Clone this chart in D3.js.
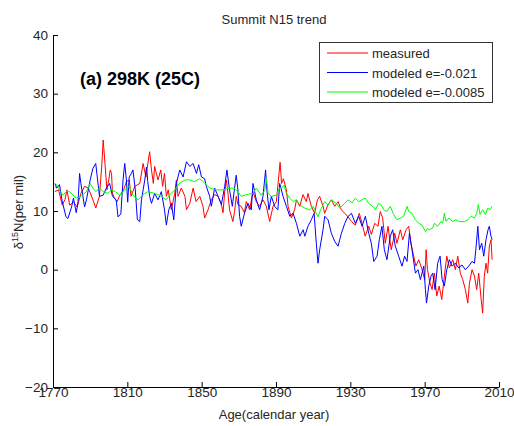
<!DOCTYPE html>
<html>
<head>
<meta charset="utf-8">
<script src="https://cdn.jsdelivr.net/npm/d3@7"></script>
<style>
  body { margin: 0; background: #fff; }
  svg { display: block; font-family: "Liberation Sans", Arial, sans-serif; }
</style>
</head>
<body>
<div id="chart"></div>
<script>
// [year, delta15N]
const measured = [
  [1771,13.3],[1773,13.6],[1775,11.0],[1776.5,12.0],[1777.5,13.6],[1779,11.0],[1781,11.5],[1783,10.7],
  [1785,13.0],[1787,14.2],[1789,13.9],[1791.5,11.9],[1793,10.5],[1795,12.5],[1796.3,18.0],[1797,22.1],
  [1798,18.0],[1799,13.6],[1800,15.3],[1800.8,17.0],[1801.5,16.4],[1802,13.0],[1803,12.2],[1804.5,11.6],
  [1806,12.7],[1808,13.6],[1809.5,15.0],[1811,15.3],[1812,12.5],[1814,14.2],[1816.7,14.7],[1818.5,18.1],
  [1820,15.8],[1822,20.1],[1823,17.0],[1824,14.7],[1824.7,17.6],[1826.5,15.3],[1828,17.0],[1829,14.2],
  [1830,16.4],[1831,12.5],[1832,13.6],[1833.7,10.2],[1835.5,13.0],[1836.4,15.3],[1837.3,12.5],[1839,13.9],
  [1841,12.5],[1841.8,10.2],[1843.6,11.3],[1845.4,13.9],[1847,11.6],[1849,12.5],[1850.7,10.8],[1851.6,8.8],
  [1853.4,10.2],[1855.2,11.9],[1857,12.8],[1858.8,12.5],[1860.5,11.3],[1861.5,9.7],[1862.4,13.3],[1863.3,15.3],
  [1864.2,12.8],[1865,10.2],[1866.8,8.2],[1867.7,9.9],[1868.6,12.5],[1869.5,11.1],[1871.3,10.8],[1873,9.7],
  [1874,11.6],[1875.8,10.2],[1877.6,13.3],[1879.4,11.6],[1881.2,10.8],[1883,11.9],[1884.8,10.8],[1886.6,8.2],
  [1888.4,10.8],[1890.2,11.6],[1891.5,16.0],[1892.2,18.3],[1893,14.7],[1894,15.5],[1895.6,13.6],[1896.5,10.8],
  [1898.3,8.8],[1900,10.2],[1901,11.9],[1902.8,10.8],[1904.5,12.8],[1906.3,11.6],[1907.2,13.0],[1909,10.8],
  [1910.8,9.6],[1912.3,11.9],[1913.5,12.5],[1915.3,10.8],[1916.2,9.6],[1918,11.1],[1919.8,11.9],[1921.6,10.8],
  [1923.4,11.6],[1925.2,10.2],[1927,9.6],[1928.8,9.0],[1930.6,8.2],[1932.7,7.6],[1934.8,9.6],[1936.3,7.9],
  [1938,5.7],[1939.9,7.4],[1941.3,6.0],[1943.1,7.9],[1944.9,7.4],[1946.1,9.9],[1947.4,8.8],[1948.8,4.5],
  [1950.3,7.4],[1952,3.4],[1953.9,6.2],[1955.1,4.5],[1956.9,6.8],[1958.2,5.1],[1960,6.8],[1961.4,7.4],
  [1962.6,4.5],[1964.1,2.3],[1965.3,0.6],[1966.8,1.7],[1968.6,0.0],[1970,-1.7],[1970.8,3.4],[1971.5,0.0],
  [1972.9,-2.3],[1974,-3.4],[1975.2,-0.6],[1976.5,-4.5],[1977.8,-2.8],[1979.2,-5.1],[1980.6,-1.1],[1981.9,2.3],
  [1983.3,0.3],[1985.1,1.7],[1986.5,0.0],[1987.8,2.3],[1989.2,-0.6],[1990.5,-1.7],[1991.9,-3.4],[1993.2,-5.7],
  [1994.1,-2.3],[1995.5,0.0],[1996.8,-1.1],[1998,-3.4],[1999.1,-0.6],[2000.4,-5.1],[2001.2,-7.4],[2002.1,-1.1],
  [2003,1.1],[2003.9,-0.6],[2004.8,4.0],[2005.7,5.1],[2006.3,1.7]
];

const modeledSteep = [
  [1771,14.7],[1772,13.9],[1773.5,14.5],[1775,11.6],[1777,9.0],[1778,8.7],[1780,10.7],[1781,12.2],
  [1782.5,9.7],[1783.5,11.6],[1784.3,16.4],[1785,14.7],[1787,10.7],[1788,11.9],[1790,15.3],[1791.5,17.3],
  [1793,18.1],[1794,15.3],[1795,12.5],[1797,12.7],[1798.7,13.9],[1800.5,14.7],[1802,12.5],[1804,11.9],
  [1805,9.0],[1806.5,9.5],[1807.7,15.3],[1808.6,18.1],[1809.5,15.3],[1810.2,11.5],[1811,15.8],[1812.2,16.4],
  [1813,17.0],[1814.3,13.6],[1815.4,8.5],[1816.7,8.2],[1817.6,11.9],[1819.4,15.3],[1820.3,17.5],[1821,15.0],
  [1822,12.5],[1823,11.3],[1824.7,13.0],[1826.5,11.9],[1828.3,13.3],[1830,10.2],[1831,7.6],[1832.3,10.2],
  [1833.7,11.3],[1835,8.5],[1836.4,14.7],[1838.2,17.0],[1840,15.8],[1841.8,18.4],[1843.6,17.6],[1845.4,18.1],
  [1847.2,16.4],[1848.4,17.9],[1849.9,15.8],[1851.6,15.5],[1852.5,14.2],[1854.3,12.5],[1855.2,10.8],[1857,13.9],
  [1858.8,12.5],[1860.6,11.1],[1862.4,14.2],[1863.6,17.0],[1865,13.6],[1866.5,10.8],[1867.7,13.9],[1868.6,16.1],
  [1869.5,13.6],[1870.4,9.1],[1871.3,7.4],[1873.1,9.7],[1874.9,11.3],[1876.7,10.2],[1877.6,14.7],[1879.4,11.9],
  [1881.2,10.2],[1883,12.5],[1884.4,17.0],[1885.1,13.6],[1886.2,10.2],[1887.5,12.5],[1889.3,10.8],[1891,10.2],
  [1892,14.7],[1893.8,12.5],[1895.6,10.8],[1897.4,9.1],[1899.2,9.6],[1901,7.9],[1902.8,5.7],[1904.6,6.8],
  [1905.5,5.7],[1907.2,7.4],[1909,8.5],[1910.5,9.6],[1911.7,4.5],[1912.6,1.1],[1913.5,3.4],[1915.3,6.8],
  [1916.2,9.1],[1918,8.5],[1919.8,6.2],[1921.6,4.8],[1923.4,4.0],[1925.2,6.2],[1927,7.9],[1928.8,9.1],
  [1930.6,9.6],[1932.7,7.9],[1934.5,9.1],[1936.3,7.4],[1938.1,9.1],[1939.9,6.2],[1941.3,4.5],[1942.6,1.4],
  [1944.4,2.3],[1945.6,5.1],[1947,7.4],[1948.3,3.4],[1949.7,1.7],[1951.5,5.7],[1952.8,6.8],[1954.2,4.0],
  [1956,2.3],[1957.8,0.6],[1959.2,2.3],[1960.5,1.4],[1961.8,6.2],[1963.2,3.4],[1965,-0.6],[1966.4,0.0],
  [1967.7,-1.7],[1969.5,0.6],[1970.4,-3.4],[1971,-5.7],[1972.2,-2.8],[1973.4,-1.1],[1974.3,-0.6],[1975.6,-3.4],
  [1977,1.1],[1978.3,2.3],[1979.4,-1.7],[1980.6,-2.8],[1981.9,0.0],[1983.3,1.7],[1984.7,0.6],[1986.5,1.1],
  [1988.3,0.3],[1990.1,0.8],[1991.9,0.0],[1993.7,0.6],[1995.5,1.4],[1996.8,1.1],[1997.7,4.0],[1998.6,7.4],
  [1999.5,3.4],[2000.7,4.5],[2001.8,2.3],[2003,5.1],[2004.1,6.8],[2004.8,7.4],[2005.7,5.7],[2006.3,5.1]
];

const modeledShallow = [
  [1771,13.9],[1772,14.5],[1774,13.3],[1775.5,12.7],[1777,13.3],[1779,13.3],[1780.8,12.7],[1782.5,12.2],
  [1785,12.5],[1788,13.3],[1790,14.7],[1791.5,13.9],[1793,13.3],[1795,13.9],[1797,13.3],[1799.5,13.0],
  [1801.5,13.6],[1803.5,13.3],[1806,12.7],[1808.5,13.6],[1811,14.2],[1813,12.7],[1815.8,11.9],[1818.5,12.8],
  [1821,13.3],[1824.7,13.0],[1828.3,12.5],[1831,11.9],[1833,12.8],[1835.5,13.6],[1838,14.7],[1841,15.3],
  [1843.6,15.3],[1846,15.0],[1849,15.5],[1851.5,14.8],[1854.3,13.9],[1857.9,13.6],[1861.5,13.6],[1865,13.9],
  [1867.5,13.9],[1869.5,13.3],[1871.3,12.5],[1874,12.8],[1877.6,13.0],[1879.4,13.9],[1882,12.7],[1884,13.5],
  [1884.8,15.5],[1885.8,13.0],[1887.5,12.5],[1890.2,12.7],[1892,14.0],[1893,13.9],[1894.3,14.4],[1895.6,13.0],
  [1897.4,12.2],[1899.2,11.6],[1901,11.9],[1902.8,11.0],[1905.5,10.5],[1908.1,10.2],[1910,10.8],[1911.7,9.6],
  [1912.6,9.0],[1914,10.2],[1916.2,11.6],[1918,11.0],[1919.8,11.9],[1922.5,11.3],[1924.3,10.5],[1927,11.3],
  [1928.8,11.9],[1931,11.4],[1932.7,12.2],[1934.5,11.6],[1936.3,11.9],[1938.1,12.2],[1939.9,11.3],[1941.7,10.9],
  [1943.5,10.2],[1945.2,11.3],[1946.7,11.0],[1948,10.2],[1949.7,9.9],[1951.5,10.8],[1953.3,9.4],[1955.1,8.5],
  [1956.9,8.8],[1958.7,9.1],[1960.5,10.8],[1961.4,9.9],[1963.2,9.6],[1965,8.5],[1966.8,7.9],[1968.6,7.6],
  [1970.4,6.5],[1971.5,7.0],[1972.5,6.8],[1974.3,7.1],[1975.2,7.9],[1977,7.4],[1978.8,8.2],[1979.7,7.9],
  [1980.6,9.6],[1981.5,8.2],[1983,8.8],[1985,8.2],[1986.8,8.5],[1988.7,8.2],[1991.4,8.2],[1993.2,8.5],
  [1995,9.1],[1996.8,8.8],[1998,9.6],[1998.9,11.1],[1999.8,9.4],[2001.2,10.2],[2002.7,9.4],[2004,10.5],
  [2005.2,10.2],[2006.3,10.8]
];

const seriesNames = ["measured", "modeled e=-0.021", "modeled e=-0.0085"];
const seriesColors = ["#ff0000", "#0000ff", "#00ff00"];
const xTicks = [1770, 1810, 1850, 1890, 1930, 1970, 2010];
const yTicks = [-20, -10, 0, 10, 20, 30, 40];

const width = 514, height = 426;
const margin = { top: 35, right: 15, bottom: 39, left: 53 };

const svg = d3.select("#chart").append("svg")
  .attr("width", width)
  .attr("height", height);

const x = d3.scaleLinear().domain([1770, 2010]).range([margin.left, width - margin.right]);
const y = d3.scaleLinear().domain([-20, 40]).range([height - margin.bottom, margin.top]);

// axes, MATLAB style: ticks pointing inwards, no box
const xAxis = svg.append("g")
  .attr("transform", `translate(0,${height - margin.bottom})`)
  .call(d3.axisBottom(x).tickValues(xTicks).tickFormat(d3.format("d"))
    .tickSizeInner(-5).tickSizeOuter(0).tickPadding(0));

const yAxis = svg.append("g")
  .attr("transform", `translate(${margin.left},0)`)
  .call(d3.axisLeft(y).tickValues(yTicks).tickSizeInner(-5).tickSizeOuter(0).tickPadding(5));

[xAxis, yAxis].forEach(g => {
  g.attr("color", "#000").attr("font-family", null);
  g.selectAll("text").attr("fill", "#262626").style("font-size", "13.5px");
});

// lines
const line = d3.line().x(d => x(d[0])).y(d => y(d[1]));
const allSeries = [measured, modeledSteep, modeledShallow];

svg.append("g").selectAll("path")
  .data(allSeries)
  .join("path")
  .attr("fill", "none")
  .attr("stroke", (d, i) => seriesColors[i])
  .attr("stroke-width", 1)
  .attr("stroke-linejoin", "round")
  .attr("d", line);

// title and labels
svg.append("text")
  .attr("x", 274).attr("y", 24)
  .attr("text-anchor", "middle")
  .style("font-size", "13px").attr("fill", "#262626")
  .text("Summit N15 trend");

svg.append("text")
  .attr("x", 274).attr("y", 419)
  .attr("text-anchor", "middle")
  .style("font-size", "13px").attr("fill", "#262626")
  .text("Age(calendar year)");

const yLab = svg.append("text")
  .attr("transform", "translate(23,212) rotate(-90)")
  .attr("text-anchor", "middle")
  .style("font-size", "13px").attr("fill", "#262626");
yLab.append("tspan").text("δ");
yLab.append("tspan").attr("dy", -5).style("font-size", "9px").text("15");
yLab.append("tspan").attr("dy", 5).text("N(per mil)");

svg.append("text")
  .attr("x", 80).attr("y", 85)
  .style("font-size", "18px").style("font-weight", "bold")
  .attr("fill", "#000")
  .text("(a) 298K (25C)");

// legend
const legend = svg.append("g");
legend.append("rect")
  .attr("x", 319.5).attr("y", 42.5)
  .attr("width", 173).attr("height", 60)
  .attr("fill", "#fff").attr("stroke", "#333");

const rowY = [53, 72.5, 92];
seriesNames.forEach((name, i) => {
  legend.append("path")
    .attr("d", `M327,${rowY[i]}H368`)
    .attr("fill", "none")
    .attr("stroke", seriesColors[i])
    .attr("stroke-width", 1.2);
  legend.append("text")
    .attr("x", 372).attr("y", rowY[i] + 5)
    .style("font-size", "13px").attr("fill", "#262626")
    .text(name);
});
</script>
</body>
</html>
